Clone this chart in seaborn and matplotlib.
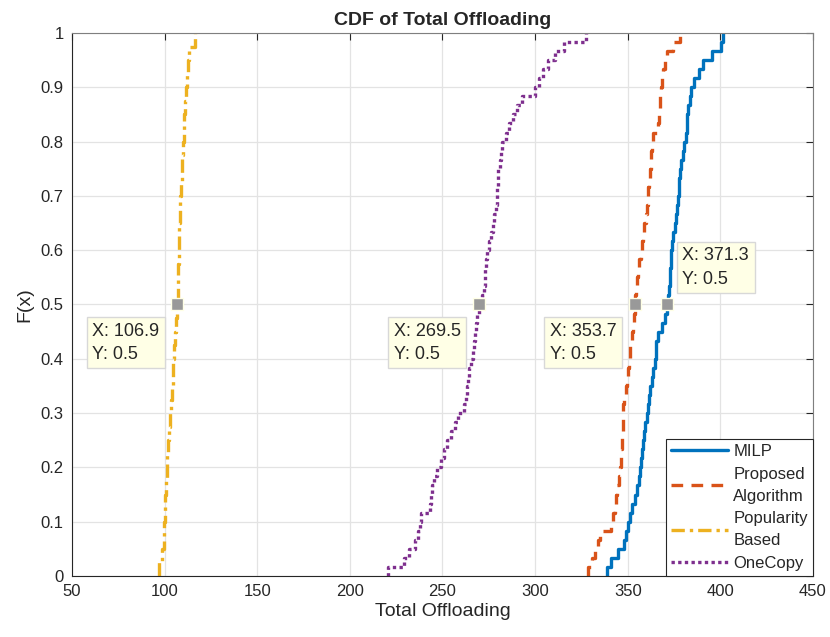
import numpy as np
import pandas as pd
import seaborn as sns
import matplotlib.pyplot as plt

# sample values
milp = [338.6, 341.0, 344.5, 347.9, 349.3, 350.2, 351.0, 352.4, 354.0, 355.2,
        355.9, 356.6, 357.1, 357.6, 358.0, 358.6, 359.4, 360.2, 360.8, 361.4,
        362.0, 362.9, 363.8, 364.7, 365.1, 365.5, 366.5, 368.3, 370.0, 371.3,
        371.8, 372.2, 372.6, 373.0, 373.3, 373.6, 374.1, 374.7, 375.3, 375.9,
        376.5, 377.1, 377.5, 377.9, 378.3, 379.0, 379.7, 380.5, 381.5, 381.8,
        382.1, 382.6, 383.6, 384.4, 385.8, 388.5, 390.8, 395.5, 400.6, 401.6]
proposed = [328.7, 330.8, 332.6, 333.8, 335.0, 340.8, 342.2, 343.0, 343.7, 344.4,
            345.1, 345.7, 346.2, 346.6, 346.9, 347.1, 347.3, 347.4, 347.6, 348.0,
            348.8, 349.6, 350.2, 350.6, 351.0, 351.3, 352.1, 352.9, 353.3, 353.7,
            354.1, 354.5, 355.1, 355.7, 356.3, 356.9, 357.6, 358.3, 359.0, 359.7,
            360.3, 360.7, 361.1, 361.5, 361.9, 362.3, 362.8, 363.3, 363.7, 366.4,
            366.8, 367.2, 367.6, 368.0, 368.5, 369.3, 370.2, 371.3, 374.5, 378.0]
popularity = [97.1, 98.4, 99.5, 99.8, 100.1, 100.4, 100.7, 101.1, 101.5, 102.0,
              102.5, 103.0, 103.5, 103.9, 104.3, 104.8, 105.3, 105.8, 106.3, 106.9,
              107.2, 107.4, 107.5, 107.6, 107.7, 107.9, 108.2, 108.5, 108.8, 109.2,
              109.5, 109.9, 110.3, 110.6, 110.9, 111.4, 111.9, 112.6, 113.3, 116.4]
onecopy = [220.8, 229.0, 231.8, 235.0, 236.8, 237.7, 238.6, 243.0, 243.8, 244.4,
           245.3, 246.9, 249.2, 250.7, 252.3, 254.7, 256.5, 258.5, 261.8, 262.8,
           263.4, 263.9, 264.4, 265.5, 266.6, 267.1, 267.7, 268.3, 268.9, 269.5,
           271.5, 272.2, 272.7, 273.1, 273.5, 274.1, 275.1, 276.1, 277.1, 278.0,
           279.0, 279.4, 279.6, 279.9, 280.2, 280.9, 281.6, 282.4, 284.2, 286.0,
           288.0, 290.4, 293.0, 299.8, 302.2, 304.0, 307.0, 310.6, 315.5, 327.5]

labels = ["MILP", "Proposed\nAlgorithm", "Popularity\nBased", "OneCopy"]
colors = ["#0072BD", "#D95319", "#EDB120", "#7E2F8E"]
styles = ["-", (0, (3.5, 2.5)), (0, (4, 1.5, 1, 1.5)), (0, (1, 1))]

# datatips: median points shown in the reference
tip_x = [371.3, 353.7, 106.9, 269.5]
tip_y = [0.5, 0.5, 0.5, 0.5]

sns.set_style("white")
plt.rcParams['font.family'] = ['Liberation Sans', 'DejaVu Sans']

fig = plt.figure(figsize=(8.3, 6.37), dpi=100)
ax = fig.add_axes([0.0867, 0.0958, 0.8928, 0.8524])

for data, lab, c, ls in zip([milp, proposed, popularity, onecopy], labels, colors, styles):
    sns.ecdfplot(x=np.array(data), ax=ax, color=c, linestyle=ls, linewidth=2.4, label=lab)

ax.set_xlim(50, 450)
ax.set_ylim(0, 1)
ax.set_xticks(np.arange(50, 451, 50))
ax.set_yticks(np.arange(0, 1.01, 0.1))
ax.set_yticklabels(["0", "0.1", "0.2", "0.3", "0.4", "0.5", "0.6", "0.7", "0.8", "0.9", "1"])
ax.grid(True, color="#E3E3E3", linewidth=0.9)
ax.set_axisbelow(True)
for sp in ax.spines.values():
    sp.set_color("#262626")
    sp.set_linewidth(0.8)
ax.spines["top"].set_color("#7F7F7F")
ax.spines["right"].set_color("#7F7F7F")
ax.tick_params(direction="in", length=5, width=0.8, colors="#262626", labelsize=12,
               top=True, right=True, pad=6)
ax.set_xlabel("Total Offloading", fontsize=14, color="#262626", labelpad=3)
ax.set_ylabel("F(x)", fontsize=14, color="#262626", labelpad=5)
ax.set_title("CDF of Total Offloading", fontsize=14, fontweight="bold", pad=6)

# datatip markers and boxes
ax.scatter(tip_x, tip_y, marker="s", s=80, color="#999999", edgecolor="#FFFFE6",
           linewidth=1, zorder=5)
offsets = [(11, 12, "left", "bottom"), (-13, -13, "right", "top"),
           (-13, -13, "right", "top"), (-13, -13, "right", "top")]
for x, y, (dx, dy, ha, va) in zip(tip_x, tip_y, offsets):
    ax.annotate(f"X: {x}\nY: {y}", xy=(x, y), xytext=(dx, dy), textcoords="offset points",
                ha=ha, va=va, multialignment="left", fontsize=13, linespacing=1.5,
                zorder=6,
                bbox=dict(boxstyle="square,pad=0.3", fc="#FFFFE6", ec="#D8D8D8", lw=1))

leg = ax.legend(loc="lower right", fontsize=12, handlelength=3.4, handletextpad=0.35,
                borderaxespad=0, fancybox=False, framealpha=1, edgecolor="#262626",
                labelspacing=0.45, borderpad=0.3)
leg.get_frame().set_linewidth(0.8)
for t in leg.get_texts():
    t.set_linespacing(1.6)

fig.savefig("out.png", dpi=100, facecolor="white")
